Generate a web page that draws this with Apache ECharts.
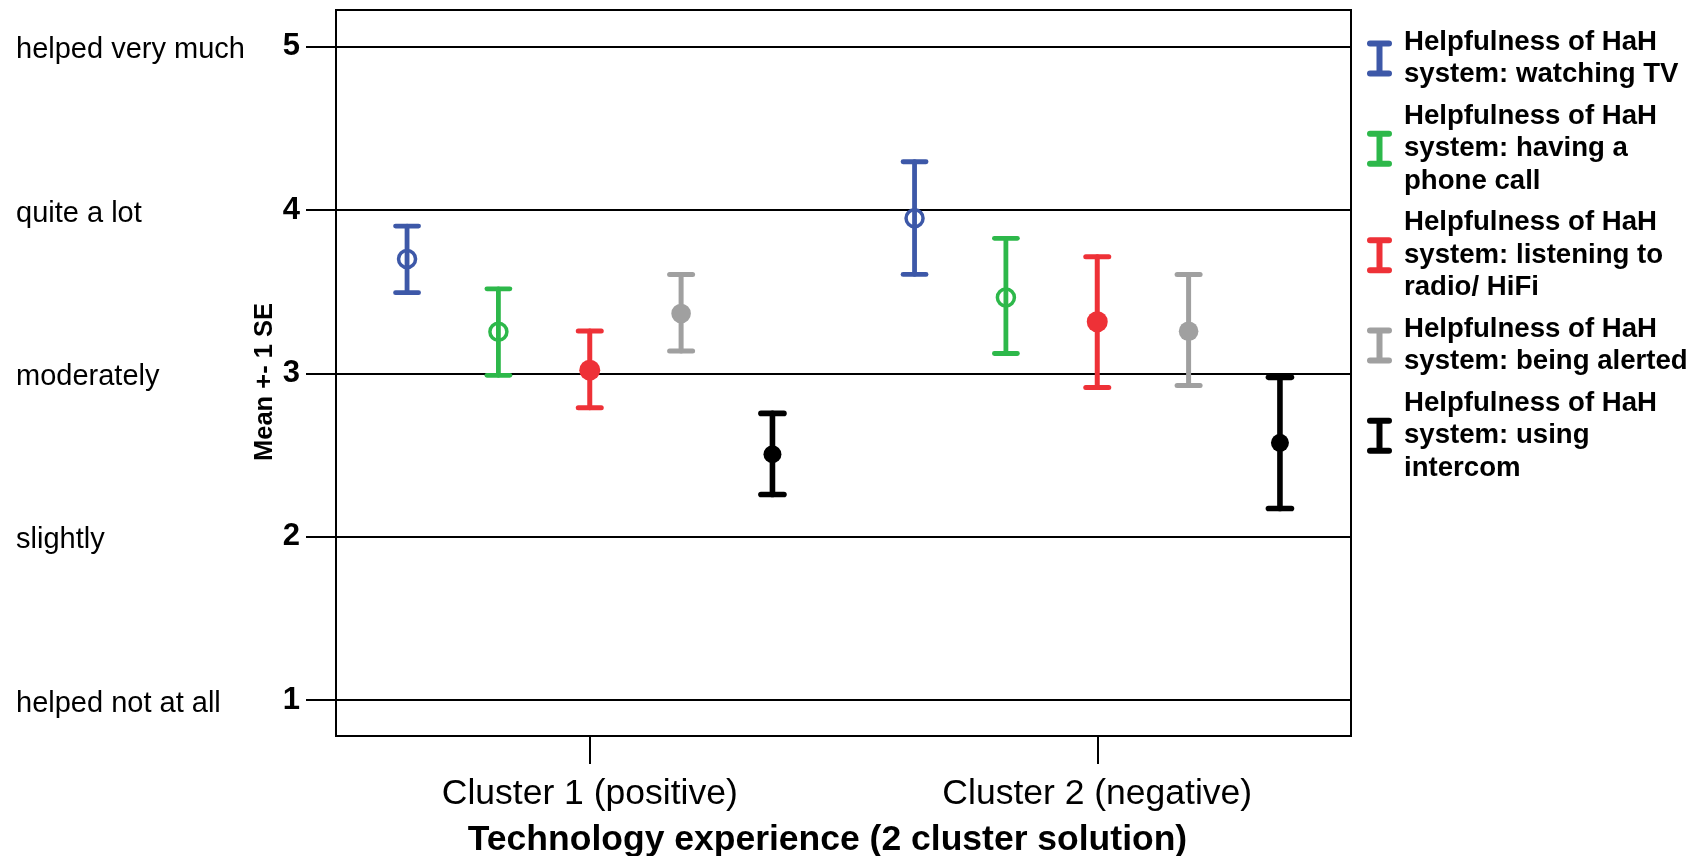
<!DOCTYPE html>
<html>
<head>
<meta charset="utf-8">
<script src="https://cdn.jsdelivr.net/npm/echarts@6/dist/echarts.min.js"></script>
<style>
html, body { margin: 0; padding: 0; background: #fff; }
#chart { width: 1702px; height: 856px; }
</style>
</head>
<body>
<div id="chart"></div>
<script>
// ---- data ----
const categories = ['Cluster 1 (positive)', 'Cluster 2 (negative)'];
const seriesNames = [
  'Helpfulness of HaH\nsystem: watching TV',
  'Helpfulness of HaH\nsystem: having a\nphone call',
  'Helpfulness of HaH\nsystem: listening to\nradio/ HiFi',
  'Helpfulness of HaH\nsystem: being alerted',
  'Helpfulness of HaH\nsystem: using\nintercom'
];
const meanTV = [3.70, 3.95];
const lowTV = [3.494, 3.606];
const highTV = [3.902, 4.296];

const meanPhone = [3.255, 3.465];
const lowPhone = [2.988, 3.122];
const highPhone = [3.518, 3.827];

const meanRadio = [3.02, 3.316];
const lowRadio = [2.79, 2.914];
const highRadio = [3.259, 3.714];

const meanAlert = [3.367, 3.258];
const lowAlert = [3.137, 2.926];
const highAlert = [3.606, 3.606];

const meanIntercom = [2.505, 2.575];
const lowIntercom = [2.259, 2.173];
const highIntercom = [2.755, 2.976];

const tickValues = [1, 2, 3, 4, 5];
const levelLabels = ['helped not at all', 'slightly', 'moderately', 'quite a lot', 'helped very much'];

// ---- styling ----
const colors = ['#3D58A8', '#2DB84A', '#EE3137', '#A0A0A0', '#000000'];
const hollow = [true, true, false, false, false];
const radius = [8.5, 8.5, 10.5, 9.8, 9];
const lineW = [4.8, 4.8, 5, 5, 5.6];
const FONT = '"Liberation Sans", Arial, sans-serif';
const OFFSET = 0.18;

const groups = [
  [meanTV, lowTV, highTV],
  [meanPhone, lowPhone, highPhone],
  [meanRadio, lowRadio, highRadio],
  [meanAlert, lowAlert, highAlert],
  [meanIntercom, lowIntercom, highIntercom]
];

function renderItem(params, api) {
  const si = params.seriesIndex;
  const idx = api.value(0);
  const base = api.coord([idx, api.value(3)]);
  const band = api.size([1, 0])[0];
  const cx = base[0] + (si - 2) * band * OFFSET;
  const cy = base[1];
  const yLo = api.coord([idx, api.value(1)])[1];
  const yHi = api.coord([idx, api.value(2)])[1];
  const c = colors[si];
  const ls = { stroke: c, lineWidth: lineW[si], lineCap: 'round' };
  const half = 11.5;
  return {
    type: 'group',
    children: [
      { type: 'line', shape: { x1: cx, y1: yHi, x2: cx, y2: yLo }, style: ls },
      { type: 'line', shape: { x1: cx - half, y1: yHi, x2: cx + half, y2: yHi }, style: ls },
      { type: 'line', shape: { x1: cx - half, y1: yLo, x2: cx + half, y2: yLo }, style: ls },
      { type: 'circle', shape: { cx: cx, cy: cy, r: radius[si] },
        style: hollow[si] ? { fill: 'none', stroke: c, lineWidth: 3.5 } : { fill: c } }
    ]
  };
}

const series = groups.map((g, si) => ({
  type: 'custom',
  name: seriesNames[si],
  renderItem: renderItem,
  itemStyle: { color: colors[si] },
  encode: { x: 0, y: [1, 2, 3] },
  data: categories.map((cat, ci) => [ci, g[1][ci], g[2][ci], g[0][ci]]),
  z: 5
}));

const iconPath = 'path://M3,0 H22 A3,3 0 0 1 22,6 H15.5 V30 H22 A3,3 0 0 1 22,36 H3 A3,3 0 0 1 3,30 H9.5 V6 H3 A3,3 0 0 1 3,0 Z';

const chart = echarts.init(document.getElementById('chart'), null, { renderer: 'canvas' });
chart.setOption({
  animation: false,
  color: colors,
  textStyle: { fontFamily: FONT, color: '#000' },
  grid: {
    left: 336, right: 351, top: 10, bottom: 120,
    show: true, borderColor: '#000', borderWidth: 2, backgroundColor: '#fff',
    containLabel: false, outerBoundsMode: 'none'
  },
  legend: {
    orient: 'vertical',
    left: 1362, top: 21,
    itemWidth: 25, itemHeight: 37, itemGap: 9,
    icon: iconPath,
    data: seriesNames.map((n, i) => ({ name: n, itemStyle: { color: colors[i] } })),
    textStyle: { fontFamily: FONT, fontSize: 27.6, fontWeight: 'bold', color: '#000', lineHeight: 32.5, padding: [0, 0, 0, 7] }
  },
  xAxis: {
    type: 'category',
    data: categories,
    boundaryGap: true,
    axisLine: { show: false },
    axisTick: { show: true, alignWithLabel: true, length: 28, lineStyle: { color: '#000', width: 2 } },
    axisLabel: { fontFamily: FONT, fontSize: 35.5, color: '#000', margin: 40 },
    splitLine: { show: false },
    name: 'Technology experience (2 cluster solution)',
    nameLocation: 'middle',
    nameGap: 86,
    nameMoveOverlap: false,
    nameTextStyle: { fontFamily: FONT, fontSize: 35.5, fontWeight: 'bold', color: '#000', padding: [0, 32, 0, 0] }
  },
  yAxis: [
    {
      type: 'value',
      min: 0.78, max: 5.225,
      position: 'left',
      axisLine: { show: false },
      axisTick: { show: true, length: 30, lineStyle: { color: '#000', width: 2 }, customValues: tickValues },
      axisLabel: { customValues: tickValues, fontFamily: FONT, fontSize: 31, fontWeight: 'bold', color: '#000', margin: 36 },
      splitLine: { show: true, lineStyle: { color: '#000', width: 2 } },
      name: 'Mean +- 1 SE',
      nameLocation: 'middle',
      nameGap: 58,
      nameMoveOverlap: false,
      nameTextStyle: { fontFamily: FONT, fontSize: 25.5, fontWeight: 'bold', color: '#000', padding: [0, 18, 0, 0] }
    },
    {
      type: 'value',
      min: 0.78, max: 5.225,
      position: 'left',
      offset: 320,
      axisLine: { show: false },
      axisTick: { show: false },
      splitLine: { show: false },
      axisLabel: {
        customValues: tickValues,
        formatter: v => '{t|' + (levelLabels[Math.round(v) - 1] || '') + '}',
        align: 'left', margin: 0,
        rich: { t: { fontFamily: FONT, fontSize: 29, color: '#000', padding: [7, 0, 0, 0] } },
        fontFamily: FONT, fontSize: 29, color: '#000'
      }
    }
  ],
  series: series
});
</script>
</body>
</html>
